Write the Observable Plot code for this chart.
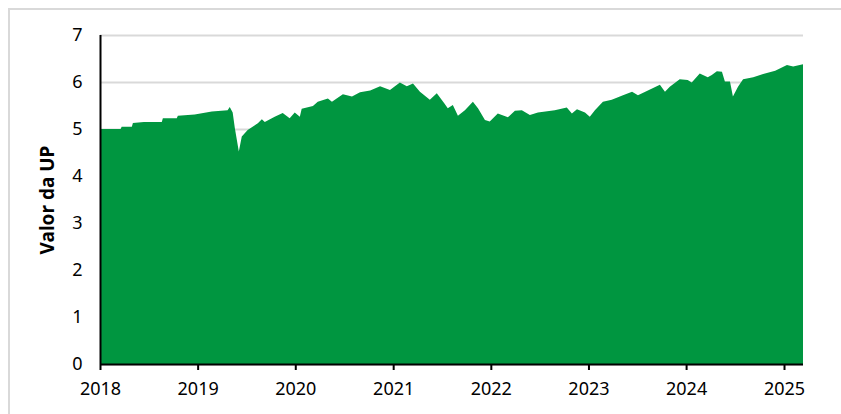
<!DOCTYPE html>
<html>
<head>
<meta charset="utf-8">
<script src="https://cdn.jsdelivr.net/npm/d3@7"></script>
<script src="https://cdn.jsdelivr.net/npm/@observablehq/plot@0.6"></script>
<style>
  html, body { margin: 0; padding: 0; background: #fff; overflow: hidden; }
  #wrap { position: relative; width: 841px; height: 414px; }
  #frame { position: absolute; left: 8px; top: 8px; width: 1000px; height: 1000px; border: 2px solid #d9d9d9; box-sizing: border-box; }
  #chart { position: absolute; left: 0; top: 0; }
  #chart svg [aria-label="y-axis label"] text { font-weight: bold; font-family: "Noto Sans", sans-serif; font-size: 19px; }
</style>
</head>
<body>
<div id="wrap">
  <div id="frame"></div>
  <div id="chart"></div>
</div>
<script>
const dates = [
  "2018-01-01","2018-03-19","2018-03-23","2018-04-30","2018-05-04","2018-06-14","2018-08-20","2018-08-24",
  "2018-10-15","2018-10-19","2018-12-21","2019-02-23","2019-04-23","2019-05-01","2019-05-12","2019-05-20",
  "2019-06-04","2019-06-15","2019-07-07","2019-08-14","2019-08-29","2019-09-09","2019-10-16","2019-11-15",
  "2019-12-11","2019-12-30","2020-01-18","2020-01-25","2020-03-07","2020-03-25","2020-05-02","2020-05-17",
  "2020-06-27","2020-07-31","2020-08-30","2020-10-07","2020-11-13","2020-12-20","2021-01-26","2021-02-21",
  "2021-03-16","2021-04-11","2021-05-18","2021-06-13","2021-07-13","2021-07-24","2021-08-12","2021-08-31",
  "2021-09-26","2021-10-26","2021-11-14","2021-12-10","2021-12-28","2022-01-27","2022-03-06","2022-04-01",
  "2022-04-27","2022-05-27","2022-06-26","2022-08-28","2022-10-12","2022-10-31","2022-11-19","2022-12-19",
  "2023-01-06","2023-01-25","2023-02-24","2023-03-29","2023-05-10","2023-06-13","2023-07-05","2023-08-19",
  "2023-09-25","2023-10-14","2023-11-01","2023-12-08","2024-01-07","2024-01-22","2024-02-21","2024-03-22",
  "2024-04-06","2024-04-25","2024-05-14","2024-05-25","2024-06-13","2024-06-24","2024-07-13","2024-08-01",
  "2024-09-08","2024-10-15","2024-11-29","2025-01-12","2025-02-04","2025-03-13"
];
const values = [
  5.00,5.00,5.05,5.05,5.13,5.15,5.15,5.23,
  5.23,5.28,5.31,5.37,5.40,5.47,5.35,5.02,
  4.52,4.84,4.98,5.12,5.21,5.15,5.26,5.34,
  5.23,5.35,5.26,5.43,5.49,5.58,5.65,5.58,
  5.74,5.69,5.78,5.82,5.91,5.83,5.99,5.91,
  5.97,5.79,5.62,5.76,5.53,5.44,5.51,5.28,
  5.40,5.58,5.44,5.19,5.16,5.33,5.25,5.39,
  5.40,5.30,5.35,5.40,5.46,5.33,5.42,5.35,
  5.26,5.40,5.58,5.62,5.72,5.79,5.72,5.84,
  5.94,5.79,5.90,6.06,6.04,5.99,6.18,6.10,
  6.15,6.23,6.22,6.01,6.01,5.69,5.90,6.06,
  6.10,6.17,6.24,6.36,6.33,6.38
];
const yearTicks = ["2018","2019","2020","2021","2022","2023","2024","2025"];
const yTicks = [0,1,2,3,4,5,6,7];
const yLabel = "Valor da UP";

const data = dates.map((d, i) => ({date: new Date(d + "T00:00:00Z"), value: values[i]}));
const xStart = data[0].date, xEnd = data[data.length - 1].date;

const chart = Plot.plot({
  width: 841,
  height: 414,
  marginLeft: 100,
  marginRight: 38,
  marginTop: 35,
  marginBottom: 50,
  style: {fontFamily: "'Noto Sans', sans-serif", fontSize: "18px", color: "#000", background: "transparent"},
  x: {type: "utc", domain: [xStart, xEnd]},
  y: {domain: [0, 7]},
  marks: [
    Plot.gridY(yTicks, {stroke: "#d9d9d9", strokeOpacity: 1, strokeWidth: 2}),
    Plot.areaY(data, {x: "date", y: "value", fill: "#009640", curve: "linear"}),
    Plot.ruleY([0], {stroke: "#000", strokeWidth: 2}),
    Plot.ruleX([xStart], {stroke: "#000", strokeWidth: 2}),
    Plot.axisY(yTicks, {tickSize: 0, tickPadding: 18, fontSize: 18, label: yLabel, labelAnchor: "center", labelArrow: "none", labelOffset: 60}),
    Plot.axisX(yearTicks.map(y => new Date(y + "-01-01T00:00:00Z")), {tickSize: 6, tickPadding: 12, tickFormat: d3.utcFormat("%Y"), fontSize: 18, stroke: "#000", strokeWidth: 2, label: null})
  ]
});
document.getElementById("chart").appendChild(chart);
</script>
</body>
</html>
